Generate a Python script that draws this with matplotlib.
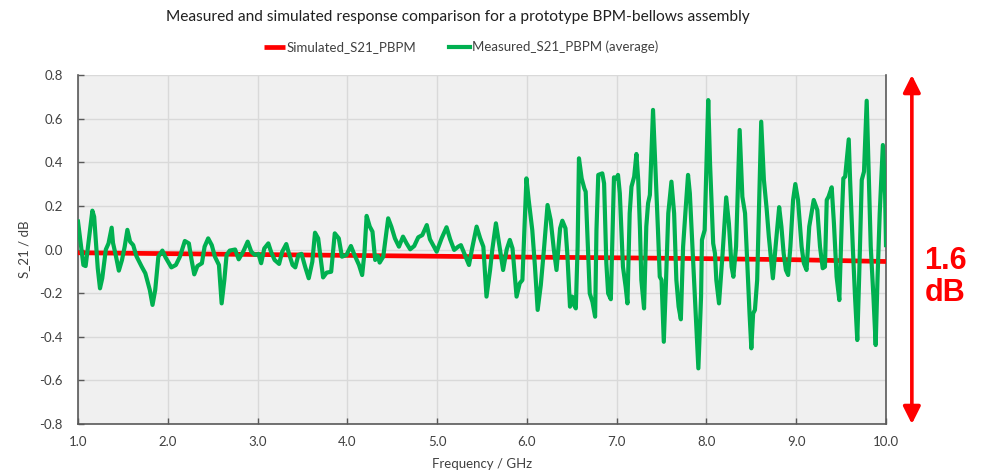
import matplotlib
matplotlib.use("Agg")
import matplotlib.pyplot as plt
import numpy as np

# Simulated S21 (smooth, slightly decreasing with frequency)
sim_freq = [1.0, 2.0, 3.0, 4.0, 5.0, 6.0, 7.0, 8.0, 9.0, 10.0]
sim_s21 = [-0.015, -0.019, -0.023, -0.027, -0.031, -0.035, -0.038, -0.042, -0.047, -0.055]

# Measured S21 (average of repeated sweeps)
meas_freq = [
    1.0, 1.06, 1.085, 1.16, 1.18, 1.22, 1.245, 1.27, 1.31, 1.34, 1.375, 1.39, 1.42, 1.455,
    1.49, 1.52, 1.55, 1.58, 1.615, 1.65, 1.71, 1.75, 1.8, 1.83, 1.86, 1.895, 1.94, 1.975,
    2.04, 2.09, 2.135, 2.19, 2.235, 2.265, 2.295, 2.33, 2.38, 2.41, 2.45, 2.49, 2.525, 2.57,
    2.6, 2.63, 2.655, 2.69, 2.75, 2.79, 2.84, 2.89, 2.93, 2.97, 3.01, 3.04, 3.075, 3.12,
    3.15, 3.19, 3.24, 3.275, 3.32, 3.34, 3.39, 3.42, 3.455, 3.49, 3.53, 3.57, 3.61, 3.64,
    3.675, 3.705, 3.73, 3.77, 3.82, 3.86, 3.905, 3.94, 3.99, 4.04, 4.08, 4.13, 4.165, 4.19,
    4.215, 4.25, 4.28, 4.31, 4.34, 4.36, 4.4, 4.455, 4.49, 4.53, 4.575, 4.62, 4.66, 4.7,
    4.745, 4.79, 4.835, 4.885, 4.92, 4.995, 5.05, 5.105, 5.145, 5.19, 5.235, 5.265, 5.31,
    5.355, 5.39, 5.44, 5.48, 5.515, 5.55, 5.59, 5.615, 5.655, 5.69, 5.735, 5.775, 5.81,
    5.84, 5.885, 5.92, 5.95, 5.995, 6.02, 6.06, 6.09, 6.12, 6.155, 6.19, 6.23, 6.265, 6.3,
    6.33, 6.37, 6.395, 6.43, 6.45, 6.48, 6.505, 6.525, 6.545, 6.565, 6.58, 6.61, 6.64,
    6.655, 6.68, 6.7, 6.73, 6.76, 6.775, 6.795, 6.84, 6.86, 6.885, 6.905, 6.935, 6.96,
    6.97, 7.0, 7.015, 7.035, 7.07, 7.1, 7.12, 7.145, 7.165, 7.195, 7.22, 7.24, 7.26, 7.275,
    7.305, 7.33, 7.35, 7.37, 7.405, 7.425, 7.46, 7.48, 7.5, 7.525, 7.55, 7.575, 7.61, 7.64,
    7.665, 7.69, 7.715, 7.74, 7.765, 7.795, 7.815, 7.84, 7.87, 7.91, 7.94, 7.95, 7.98,
    8.02, 8.04, 8.075, 8.095, 8.11, 8.14, 8.18, 8.22, 8.25, 8.28, 8.3, 8.33, 8.37, 8.4,
    8.43, 8.455, 8.48, 8.5, 8.52, 8.54, 8.565, 8.61, 8.64, 8.67, 8.695, 8.74, 8.77, 8.81,
    8.835, 8.86, 8.885, 8.91, 8.935, 8.965, 8.99, 9.02, 9.06, 9.085, 9.115, 9.145, 9.195,
    9.235, 9.265, 9.295, 9.32, 9.34, 9.36, 9.395, 9.42, 9.45, 9.48, 9.51, 9.525, 9.545,
    9.585, 9.6, 9.63, 9.655, 9.68, 9.7, 9.73, 9.755, 9.785, 9.81, 9.83, 9.86, 9.885, 9.905,
    9.93, 9.965, 9.99, 10.0,
]
meas_s21 = [
    0.128, -0.071, -0.076, 0.178, 0.15, -0.086, -0.178, -0.132, 0.0, 0.028, 0.1, 0.03, -0.025, -0.097,
    -0.048, 0.013, 0.09, 0.036, 0.02, -0.03, -0.079, -0.109, -0.186, -0.254, -0.186, -0.033, -0.005, -0.036,
    -0.082, -0.071, -0.033, 0.039, 0.028, -0.048, -0.114, -0.076, -0.063, 0.013, 0.051, 0.02, -0.033, -0.071,
    -0.247, -0.14, -0.025, -0.005, 0.0, -0.045, -0.01, 0.036, -0.01, -0.025, -0.02, -0.063, 0.005, 0.028,
    -0.01, -0.048, -0.066, -0.01, 0.025, -0.005, -0.071, -0.082, -0.025, -0.02, -0.079, -0.132, -0.056, 0.077,
    0.051, -0.048, -0.128, -0.106, -0.102, 0.074, 0.051, -0.033, -0.025, 0.016, -0.025, -0.071, -0.117, -0.018,
    0.154, 0.105, 0.082, -0.048, -0.03, -0.06, -0.033, 0.143, 0.105, 0.051, 0.013, 0.059, 0.028, 0.001,
    0.016, 0.056, 0.066, 0.112, 0.047, -0.01, 0.051, 0.102, 0.047, -0.002, 0.013, 0.02, -0.025,
    -0.071, 0.005, 0.105, 0.051, 0.013, -0.216, -0.094, 0.0, 0.12, 0.028, -0.094, 0.0, 0.044,
    0.005, -0.216, -0.155, -0.14, 0.326, 0.227, 0.089, -0.079, -0.277, -0.163, 0.0, 0.204, 0.135, 0.0,
    -0.094, 0.097, 0.132, 0.097, -0.018, -0.262, -0.216, -0.254, -0.27, 0.013, 0.418, 0.326, 0.28,
    0.265, 0.013, -0.201, -0.24, -0.308, 0.089, 0.342, 0.349, 0.303, -0.063, -0.201, -0.228, 0.166,
    0.331, 0.326, 0.342, 0.258, -0.079, -0.171, -0.247, 0.166, 0.288, 0.334, 0.438, 0.319, 0.089, -0.14,
    -0.27, 0.105, 0.212, 0.25, 0.64, 0.441, 0.089, -0.125, -0.14, -0.423, -0.14, 0.166, 0.311, 0.166,
    -0.14, -0.262, -0.32, 0.013, 0.166, 0.342, 0.258, 0.044, -0.216, -0.545, -0.216, 0.044, 0.089,
    0.685, 0.395, 0.028, -0.018, -0.14, -0.247, -0.018, 0.239, 0.12, -0.079, -0.125, 0.013, 0.548, 0.242,
    0.166, -0.063, -0.293, -0.453, -0.293, -0.277, -0.14, 0.586, 0.319, 0.189, 0.059, -0.132, 0.013, 0.194,
    0.105, -0.018, -0.094, -0.117, 0.013, 0.227, 0.3, 0.227, 0.013, -0.063, -0.094, 0.105, 0.227,
    0.181, 0.013, -0.086, -0.079, 0.227, 0.242, 0.285, 0.12, -0.125, -0.232, 0.166, 0.326, 0.334,
    0.505, 0.319, 0.013, -0.216, -0.415, -0.14, 0.319, 0.357, 0.682, 0.319, 0.013, -0.216, -0.438, -0.14,
    0.166, 0.479, 0.25, 0.02,
]

x_ticks = [1.0, 2.0, 3.0, 4.0, 5.0, 6.0, 7.0, 8.0, 9.0, 10.0]
y_ticks = [-0.8, -0.6, -0.4, -0.2, 0.0, 0.2, 0.4, 0.6, 0.8]
span_label = "1.6\ndB"

plt.rcParams["font.family"] = ["Lato", "DejaVu Sans"]

fig = plt.figure(figsize=(9.83, 4.72), dpi=100)
ax = fig.add_axes([78 / 983, 1 - 424 / 472, 808 / 983, 349 / 472])
ax.set_facecolor("#f0f0f0")

ax.plot(sim_freq, sim_s21, color="#ff0000", lw=3.4, solid_capstyle="butt",
        label="Simulated_S21_PBPM", zorder=3)
ax.plot(meas_freq, meas_s21, color="#00b050", lw=3.0, solid_joinstyle="round",
        label="Measured_S21_PBPM (average)", zorder=4)

ax.set_xlim(1.0, 10.0)
ax.set_ylim(-0.8, 0.8)
ax.set_xticks(x_ticks)
ax.set_xticklabels([f"{v:.1f}" for v in x_ticks])
ax.set_yticks(y_ticks)
ax.set_yticklabels([f"{v:.1f}" for v in y_ticks])
ax.grid(True, color="#d9d9d9", lw=1.0, zorder=0)
ax.set_axisbelow(True)
ax.tick_params(direction="in", length=4, width=1, color="#595959",
               labelsize=9.5, labelcolor="#404040")
ax.tick_params(axis="y", pad=11)
ax.tick_params(axis="x", pad=9)
for side in ("left", "bottom", "right"):
    ax.spines[side].set_color("#595959")
    ax.spines[side].set_linewidth(1.2)
ax.spines["top"].set_visible(False)

ax.set_xlabel("Frequency / GHz", fontsize=9.5, color="#404040", labelpad=7)
ax.set_ylabel("S_21 / dB", fontsize=9.5, color="#404040")
ax.yaxis.set_label_coords(-0.059, 0.5)

fig.text(458 / 983, 1 - 17 / 472, "Measured and simulated response comparison for a prototype BPM-bellows assembly",
         ha="center", va="center", fontsize=11.2, color="#202020")
fig.legend(loc="center", bbox_to_anchor=(461 / 983, 1 - 47 / 472), ncol=2, frameon=False,
           fontsize=9.5, handlelength=1.6, columnspacing=2.5, handletextpad=0.1,
           labelcolor="#404040")

# Double-headed arrow spanning the full y range
ax.annotate("", xy=(1.032, 0.8), xytext=(1.032, -0.8),
            xycoords=("axes fraction", "data"), textcoords=("axes fraction", "data"),
            arrowprops=dict(arrowstyle="<|-|>", color="#ff0000", lw=2.6,
                            mutation_scale=26, shrinkA=0, shrinkB=0),
            annotation_clip=False)
ax.text(1.073, -0.125, span_label, transform=ax.get_yaxis_transform(),
        ha="center", va="center", fontsize=22, fontweight="bold", color="#ff0000",
        family=["Liberation Sans", "DejaVu Sans"], linespacing=1.1, clip_on=False)

fig.savefig("out.png", dpi=100)
